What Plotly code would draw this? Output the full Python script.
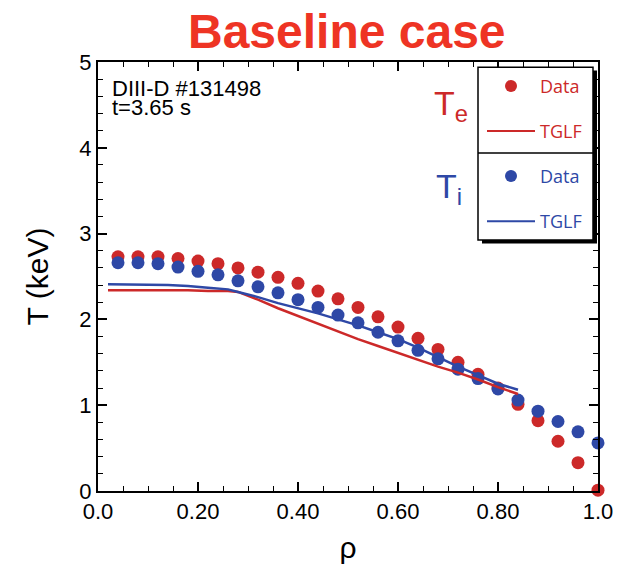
import plotly.graph_objects as go

# Measured profiles (DIII-D #131498, t = 3.65 s)
rho = [0.04, 0.08, 0.12, 0.16, 0.20, 0.24, 0.28, 0.32, 0.36, 0.40, 0.44, 0.48,
       0.52, 0.56, 0.60, 0.64, 0.68, 0.72, 0.76, 0.80, 0.84, 0.88, 0.92, 0.96, 1.00]
te_data = [2.73, 2.73, 2.73, 2.71, 2.68, 2.65, 2.60, 2.55, 2.49, 2.42, 2.33, 2.24,
           2.14, 2.03, 1.91, 1.78, 1.65, 1.50, 1.36, 1.20, 1.01, 0.82, 0.58, 0.33, 0.01]
ti_data = [2.66, 2.66, 2.65, 2.61, 2.56, 2.52, 2.45, 2.38, 2.31, 2.23, 2.14, 2.05,
           1.96, 1.85, 1.75, 1.64, 1.54, 1.42, 1.31, 1.19, 1.06, 0.93, 0.81, 0.69, 0.56]

# TGLF predicted profiles
rho_tglf = [0.02, 0.06, 0.10, 0.14, 0.18, 0.22, 0.26, 0.28, 0.32, 0.36, 0.40, 0.44,
            0.48, 0.52, 0.56, 0.60, 0.64, 0.68, 0.72, 0.76, 0.80, 0.84]
te_tglf = [2.34, 2.34, 2.34, 2.34, 2.34, 2.33, 2.33, 2.32, 2.23, 2.13, 2.04, 1.95,
           1.86, 1.77, 1.69, 1.61, 1.53, 1.45, 1.38, 1.30, 1.21, 1.13]
ti_tglf = [2.41, 2.41, 2.405, 2.40, 2.39, 2.37, 2.35, 2.32, 2.26, 2.19, 2.13, 2.07,
           2.00, 1.93, 1.85, 1.77, 1.67, 1.56, 1.45, 1.35, 1.25, 1.18]

x_tickvals = [0.0, 0.2, 0.4, 0.6, 0.8, 1.0]
x_ticktext = ["0.0", "0.20", "0.40", "0.60", "0.80", "1.0"]
y_tickvals = [0, 1, 2, 3, 4, 5]

RED = "rgb(204,41,41)"
BLUE = "rgb(46,72,166)"
TITLE_RED = "rgb(238,52,36)"
FONT = "Liberation Sans, Arial, Helvetica, sans-serif"
KEY_FONT = "Open Sans, Liberation Sans, sans-serif"

fig = go.Figure()
fig.add_trace(go.Scatter(x=rho, y=te_data, mode="markers",
                         marker=dict(color=RED, size=13), cliponaxis=False))
fig.add_trace(go.Scatter(x=rho, y=ti_data, mode="markers",
                         marker=dict(color=BLUE, size=13), cliponaxis=False))
fig.add_trace(go.Scatter(x=rho_tglf, y=te_tglf, mode="lines",
                         line=dict(color=RED, width=2.5)))
fig.add_trace(go.Scatter(x=rho_tglf, y=ti_tglf, mode="lines",
                         line=dict(color=BLUE, width=2.5)))

axis_common = dict(showline=True, linecolor="black", linewidth=2, mirror="ticks",
                   ticks="inside", ticklen=9, tickwidth=1.5, tickcolor="black",
                   showgrid=False, zeroline=False, automargin=False,
                   tickfont=dict(family=FONT, size=22, color="black"))

fig.update_xaxes(range=[0, 1], tickvals=x_tickvals, ticktext=x_ticktext,
                 minor=dict(dtick=0.05, ticks="inside", ticklen=5, tickwidth=1.2,
                            tickcolor="black"),
                 title=dict(text="ρ", font=dict(family=FONT, size=30, color="black"),
                            standoff=18),
                 **axis_common)
fig.update_yaxes(range=[0, 5], tickvals=y_tickvals,
                 minor=dict(dtick=0.2, ticks="inside", ticklen=5, tickwidth=1.2,
                            tickcolor="black"),
                 title=dict(text="T (keV)", font=dict(family=FONT, size=30, color="black"),
                            standoff=22),
                 **axis_common)

# Custom key box: shadow, frame, divider
shapes = [
    dict(type="rect", xref="paper", yref="paper", x0=0.768, x1=0.998, y0=0.577, y1=0.980,
         fillcolor="black", line=dict(width=0)),
    dict(type="rect", xref="paper", yref="paper", x0=0.760, x1=0.990, y0=0.585, y1=0.988,
         fillcolor="white", line=dict(color="black", width=1.5)),
    dict(type="line", xref="paper", yref="paper", x0=0.760, x1=0.990, y0=0.788, y1=0.788,
         line=dict(color="black", width=1.5)),
    dict(type="line", xref="paper", yref="paper", x0=0.778, x1=0.874, y0=0.839, y1=0.839,
         line=dict(color=RED, width=2)),
    dict(type="line", xref="paper", yref="paper", x0=0.778, x1=0.874, y0=0.629, y1=0.629,
         line=dict(color=BLUE, width=2)),
    dict(type="circle", xref="paper", yref="paper", xsizemode="pixel", ysizemode="pixel",
         xanchor=0.826, yanchor=0.944, x0=-6, x1=6, y0=-6, y1=6,
         fillcolor=RED, line=dict(width=0)),
    dict(type="circle", xref="paper", yref="paper", xsizemode="pixel", ysizemode="pixel",
         xanchor=0.826, yanchor=0.734, x0=-6, x1=6, y0=-6, y1=6,
         fillcolor=BLUE, line=dict(width=0)),
]

annotations = [
    dict(text="<b>Baseline case</b>", xref="paper", yref="paper", x=0.497, y=1.072,
         xanchor="center", yanchor="middle", showarrow=False,
         font=dict(family=FONT, size=48, color=TITLE_RED)),
    dict(text="DIII-D #131498", xref="paper", yref="paper", x=0.024, y=0.938,
         xanchor="left", yanchor="middle", align="left", showarrow=False,
         font=dict(family=FONT, size=22, color="black")),
    dict(text="t=3.65 s", xref="paper", yref="paper", x=0.024, y=0.894,
         xanchor="left", yanchor="middle", align="left", showarrow=False,
         font=dict(family=FONT, size=22, color="black")),
    dict(text="T<sub>e</sub>", xref="paper", yref="paper", x=0.668, y=0.898,
         xanchor="left", yanchor="middle", showarrow=False,
         font=dict(family=FONT, size=34, color=RED)),
    dict(text="T<sub>i</sub>", xref="paper", yref="paper", x=0.672, y=0.705,
         xanchor="left", yanchor="middle", showarrow=False,
         font=dict(family=FONT, size=34, color=BLUE)),
    dict(text="Data", xref="paper", yref="paper", x=0.880, y=0.944,
         xanchor="left", yanchor="middle", showarrow=False,
         font=dict(family=KEY_FONT, size=18, color=RED)),
    dict(text="TGLF", xref="paper", yref="paper", x=0.880, y=0.839,
         xanchor="left", yanchor="middle", showarrow=False,
         font=dict(family=KEY_FONT, size=18, color=RED)),
    dict(text="Data", xref="paper", yref="paper", x=0.880, y=0.734,
         xanchor="left", yanchor="middle", showarrow=False,
         font=dict(family=KEY_FONT, size=18, color=BLUE)),
    dict(text="TGLF", xref="paper", yref="paper", x=0.880, y=0.629,
         xanchor="left", yanchor="middle", showarrow=False,
         font=dict(family=KEY_FONT, size=18, color=BLUE)),
]

fig.update_layout(
    width=617, height=564,
    margin=dict(l=98, r=19, t=62, b=73),
    paper_bgcolor="white", plot_bgcolor="white",
    showlegend=False,
    shapes=shapes, annotations=annotations,
)

fig.write_html("out.html")
